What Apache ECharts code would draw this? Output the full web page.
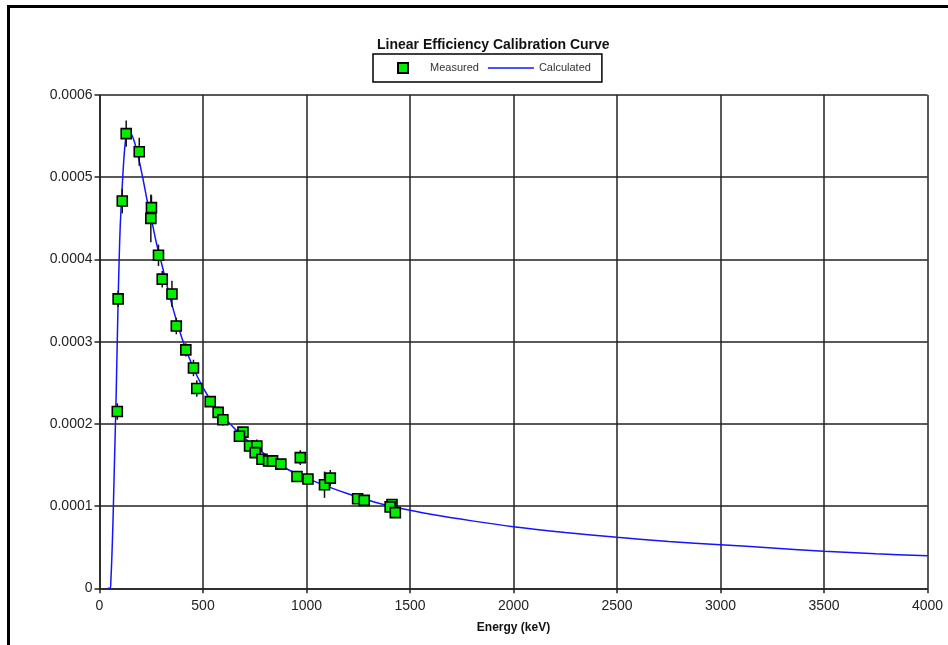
<!DOCTYPE html>
<html>
<head>
<meta charset="utf-8">
<script src="https://cdn.jsdelivr.net/npm/echarts@6/dist/echarts.min.js"></script>
<style>
  html, body { margin: 0; padding: 0; background: #fff; }
  #chart { width: 948px; height: 645px; }
</style>
</head>
<body>
<div id="chart"></div>
<script>
// measured points (energy keV, efficiency, 1-sigma)
var measE = [86, 90, 110, 129, 192, 251, 248, 285, 303, 350, 371, 417, 454, 470, 535, 573, 596,
  693, 676, 725, 760, 752, 785, 817, 836, 876, 970, 954, 1007, 1087, 1115, 1247, 1279, 1413, 1404, 1429];
var measEff = [0.000215, 0.000352, 0.000471, 0.000553, 0.000531, 0.000463, 0.000450, 0.000405, 0.000376,
  0.000358, 0.000319, 0.000290, 0.000268, 0.000243, 0.000227, 0.000214, 0.000205,
  0.000190, 0.000185, 0.000173, 0.000173, 0.000165, 0.000157, 0.000155, 0.000155, 0.000151,
  0.000159, 0.000136, 0.000133, 0.000126, 0.000134, 0.000109, 0.000107, 0.000102, 0.000099, 0.000092];
var measErr = [0.000010, 0.000010, 0.000015, 0.000016, 0.000017, 0.000015, 0.000029, 0.000013, 0.000010,
  0.000016, 0.000010, 0.000008, 0.000010, 0.000010, 0.000006, 0.000007, 0.000007,
  0.000006, 0.000006, 0.000006, 0.000008, 0.000006, 0.000005, 0.000004, 0.000004, 0.000004,
  0.000009, 0.000005, 0.000005, 0.000016, 0.000010, 0.000004, 0.000004, 0.000005, 0.000004, 0.000004];

// calculated curve
var calcE = [40, 52, 55, 60, 65, 70, 75, 80, 85, 90, 95, 100, 110, 120, 130, 140, 150, 170, 190, 210, 230,
  250, 275, 300, 350, 400, 450, 500, 550, 600, 700, 800, 900, 1000, 1100, 1200, 1300, 1400, 1500, 1600,
  1800, 2000, 2250, 2500, 2750, 3000, 3250, 3500, 3750, 4000];
var calcEff = [0, 0, 0.00001, 0.00004, 0.00008, 0.00013, 0.00018, 0.00023, 0.00029, 0.00035, 0.00040,
  0.00044, 0.00049, 0.00053, 0.000552, 0.000558, 0.000555, 0.000542, 0.000522, 0.000498, 0.000472,
  0.000450, 0.000420, 0.000395, 0.000345, 0.000303, 0.000270, 0.000244, 0.000224, 0.000208,
  0.000183, 0.000163, 0.000146, 0.000134, 0.000124, 0.000115, 0.000107, 0.000100, 0.000095, 0.000090,
  0.000082, 0.000075, 0.000068, 0.000062, 0.000057, 0.000053, 0.000049, 0.000045, 0.000042, 0.0000395];

var xTicks = [0, 500, 1000, 1500, 2000, 2500, 3000, 3500, 4000];

var scatterData = measE.map(function (e, i) { return [e, measEff[i]]; });
var errData = measE.map(function (e, i) { return [e, measEff[i] - measErr[i], measEff[i] + measErr[i]]; });
var lineData = calcE.map(function (e, i) { return [e, calcEff[i]]; });

var FONT = 'Liberation Sans, Arial, sans-serif';
var chart = echarts.init(document.getElementById('chart'));
chart.setOption({
  animation: false,
  textStyle: { fontFamily: FONT },
  title: {
    text: 'Linear Efficiency Calibration Curve',
    left: 372, top: 33,
    textStyle: { fontSize: 14, fontWeight: 'bold', color: '#111', fontFamily: FONT }
  },
  legend: {
    left: 373, top: 54,
    padding: [8, 11, 8, 5],
    borderColor: '#000', borderWidth: 1.5,
    itemWidth: 46, itemHeight: 10, itemGap: 9,
    textStyle: { fontSize: 11, color: '#333', fontFamily: FONT },
    data: [
      { name: 'Measured', icon: 'path://M0,0M46,10M19,0H29V10H19Z' },
      { name: 'Calculated', icon: 'path://M0,0H46V1.6H0Z' }
    ]
  },
  grid: { left: 99.5, right: 20.5, top: 95, bottom: 56.7 },
  xAxis: {
    type: 'value', min: 0, max: 4000, interval: 500,
    name: 'Energy (keV)', nameLocation: 'middle', nameGap: 33,
    nameTextStyle: { fontSize: 12, fontWeight: 'bold', color: '#111' },
    axisLine: { lineStyle: { color: '#222', width: 1.5 } },
    axisTick: { length: 5, lineStyle: { color: '#222', width: 1.5 } },
    axisLabel: { fontSize: 14, color: '#222', margin: 11,
      formatter: function (v) { return xTicks.indexOf(v) >= 0 ? String(v) : ''; } },
    splitLine: { show: true, lineStyle: { color: '#222', width: 1.5 } }
  },
  yAxis: {
    type: 'value', min: 0, max: 0.0006, interval: 0.0001,
    axisLine: { show: true, lineStyle: { color: '#222', width: 1.5 } },
    axisTick: { show: true, length: 5, lineStyle: { color: '#222', width: 1.5 } },
    axisLabel: { fontSize: 14, color: '#222', margin: 7,
      formatter: function (v) { return v === 0 ? '0' : v.toFixed(4); } },
    splitLine: { show: true, lineStyle: { color: '#222', width: 1.5 } }
  },
  graphic: [
    { type: 'rect', shape: { x: 7, y: 5, width: 941, height: 3 }, style: { fill: '#000' } },
    { type: 'rect', shape: { x: 7, y: 5, width: 3, height: 640 }, style: { fill: '#000' } }
  ],
  series: [
    {
      name: 'Calculated', type: 'line', data: lineData, smooth: 0.3,
      symbol: 'none', z: 2,
      lineStyle: { color: '#1414ff', width: 1.5 }, itemStyle: { color: '#1414ff' }
    },
    {
      name: 'err', type: 'custom', data: errData, z: 3,
      renderItem: function (params, api) {
        var p1 = api.coord([api.value(0), api.value(1)]);
        var p2 = api.coord([api.value(0), api.value(2)]);
        return { type: 'line', shape: { x1: p1[0], y1: p1[1], x2: p2[0], y2: p2[1] },
          style: { stroke: '#111', lineWidth: 1.5 } };
      }
    },
    {
      name: 'Measured', type: 'scatter', data: scatterData, z: 4,
      symbol: 'rect', symbolSize: 10,
      itemStyle: { color: '#00ee00', borderColor: '#000', borderWidth: 1.6, opacity: 1 }
    }
  ]
});
</script>
</body>
</html>
